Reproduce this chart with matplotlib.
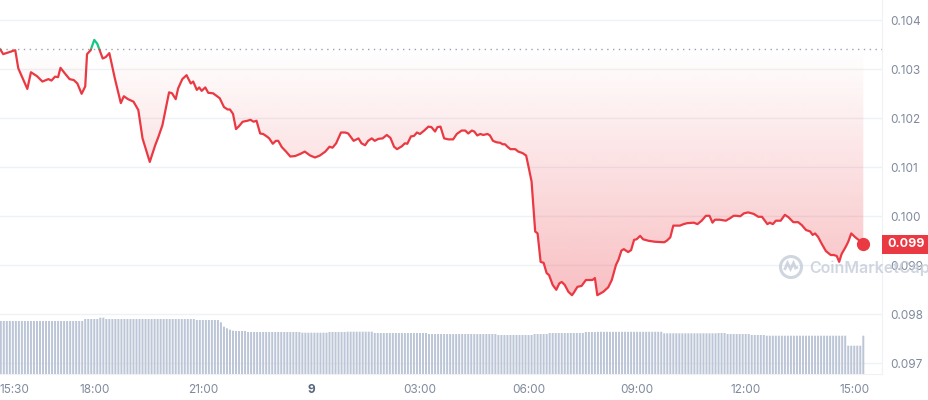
import numpy as np
import matplotlib
matplotlib.use("Agg")
import matplotlib.pyplot as plt
import matplotlib.transforms as mtransforms
from matplotlib.patches import Rectangle, Circle
from matplotlib.path import Path
from matplotlib.patches import PathPatch

plt.rcParams['font.family'] = ['Inter', 'DejaVu Sans']

# ---------------- data ----------------
# minutes after 15:30 (day 8)
minutes = [-6, -1, 19, 24, 39, 45, 55, 64, 74, 79, 85, 90, 94, 101, 109, 116, 122, 129, 135, 138,
           144, 150, 155, 164, 169, 175, 184, 194, 199, 206, 215, 223, 230, 242, 251, 256, 263, 274, 279, 285,
           289, 296, 303, 310, 314, 320, 324, 328, 334, 339, 347, 358, 365, 371, 375, 380, 385, 390, 396, 404,
           409, 414, 419, 425, 430, 436, 440, 446, 451, 455, 461, 468, 475, 483, 491, 499, 508, 516, 524, 533,
           540, 545, 551, 559, 566, 571, 580, 588, 593, 599, 604, 610, 615, 621, 628, 635, 641, 647, 652, 660,
           665, 669, 675, 680, 685, 690, 697, 704, 709, 715, 719, 724, 730, 737, 745, 751, 759, 765, 770, 776,
           780, 785, 790, 795, 802, 806, 811, 817, 823, 827, 831, 835, 840, 848, 853, 860, 866, 870, 875, 878,
           881, 885, 890, 895, 900, 904, 910, 916, 921, 925, 930, 936, 942, 945, 951, 958, 965, 972, 976, 980,
           984, 994, 1002, 1008, 1015, 1019, 1024, 1028, 1035, 1040, 1045, 1049, 1055, 1060, 1069, 1080, 1095, 1099, 1105, 1110,
           1121, 1127, 1133, 1144, 1150, 1157, 1164, 1170, 1175, 1179, 1187, 1197, 1204, 1210, 1215, 1221, 1227, 1234, 1243, 1251,
           1257, 1266, 1270, 1275, 1280, 1288, 1295, 1301, 1309, 1317, 1323, 1330, 1337, 1341, 1345, 1350, 1356, 1363, 1371, 1376,
           1381, 1385, 1389, 1396, 1400, 1405, 1411, 1417, 1425]

prices = [0.10341, 0.10331, 0.10339, 0.10302, 0.10260, 0.10294, 0.10286, 0.10275, 0.10280, 0.10277,
          0.10285, 0.10284, 0.10303, 0.10292, 0.10280, 0.10278, 0.10271, 0.10250, 0.10265, 0.10331,
          0.10339, 0.10360, 0.10352, 0.10322, 0.10325, 0.10333, 0.10282, 0.10231, 0.10245, 0.10239,
          0.10234, 0.10217, 0.10159, 0.10111, 0.10145, 0.10161, 0.10186, 0.10253, 0.10251, 0.10239,
          0.10261, 0.10280, 0.10288, 0.10271, 0.10275, 0.10258, 0.10263, 0.10256, 0.10263, 0.10252,
          0.10251, 0.10241, 0.10223, 0.10218, 0.10218, 0.10209, 0.10178, 0.10184, 0.10193, 0.10195,
          0.10197, 0.10193, 0.10195, 0.10169, 0.10168, 0.10163, 0.10159, 0.10148, 0.10154, 0.10154,
          0.10141, 0.10132, 0.10122, 0.10123, 0.10127, 0.10132, 0.10124, 0.10120, 0.10124, 0.10132,
          0.10142, 0.10140, 0.10149, 0.10171, 0.10171, 0.10169, 0.10154, 0.10159, 0.10149, 0.10145,
          0.10154, 0.10159, 0.10154, 0.10158, 0.10159, 0.10166, 0.10160, 0.10142, 0.10137, 0.10143,
          0.10149, 0.10148, 0.10163, 0.10164, 0.10171, 0.10168, 0.10175, 0.10183, 0.10182, 0.10173,
          0.10182, 0.10183, 0.10159, 0.10157, 0.10157, 0.10168, 0.10175, 0.10175, 0.10169, 0.10175,
          0.10173, 0.10165, 0.10168, 0.10166, 0.10168, 0.10165, 0.10154, 0.10151, 0.10150, 0.10147,
          0.10147, 0.10142, 0.10137, 0.10137, 0.10132, 0.10129, 0.10124, 0.10101, 0.10071, 0.10020,
          0.09969, 0.09965, 0.09907, 0.09905, 0.09884, 0.09880, 0.09860, 0.09850, 0.09863, 0.09866,
          0.09860, 0.09846, 0.09839, 0.09844, 0.09856, 0.09858, 0.09870, 0.09870, 0.09870, 0.09874,
          0.09839, 0.09846, 0.09855, 0.09870, 0.09901, 0.09911, 0.09930, 0.09933, 0.09927, 0.09931,
          0.09952, 0.09953, 0.09960, 0.09953, 0.09950, 0.09948, 0.09947, 0.09950, 0.09957, 0.09981,
          0.09981, 0.09984, 0.09986, 0.09987, 0.09984, 0.09991, 0.10001, 0.10001, 0.09987, 0.09993,
          0.09993, 0.09991, 0.09996, 0.10001, 0.10001, 0.10000, 0.10006, 0.10008, 0.10005, 0.09999,
          0.09999, 0.09984, 0.09987, 0.09984, 0.09991, 0.09991, 0.10003, 0.09998, 0.09988, 0.09988,
          0.09982, 0.09972, 0.09969, 0.09962, 0.09965, 0.09958, 0.09944, 0.09929, 0.09921, 0.09921,
          0.09919, 0.09907, 0.09923, 0.09938, 0.09948, 0.09965, 0.09958, 0.09952, 0.09943]

# volume bars, run-length: level (relative units) and number of 5-minute bars at that level
vol_levels = [5.30, 5.50, 5.63, 5.50, 5.40, 5.17, 4.73, 4.57, 4.43, 4.33, 4.30, 4.20, 4.13, 4.20, 4.23,
              4.10, 4.00, 3.90, 4.00, 4.10, 4.20, 4.22, 4.07, 4.10, 4.00, 3.90, 3.83, 2.83, 3.83]
vol_counts = [28, 5, 2, 30, 8, 1, 1, 1, 1, 1, 4, 18, 9, 6, 9,
              18, 23, 12, 5, 12, 4, 22, 18, 3, 8, 5, 27, 5, 1]
vol_first_minute = -5
vol_step_minutes = 5

ref_price = 0.10341          # opening reference (dotted line)
last_label = "0.099"

x_tick_minutes = [0, 150, 330, 510, 690, 870, 1050, 1230, 1410]
x_tick_labels = ["15:30", "18:00", "21:00", "9", "03:00", "06:00", "09:00", "12:00", "15:00"]
y_ticks = [0.097, 0.098, 0.099, 0.100, 0.101, 0.102, 0.103, 0.104]
y_tick_labels = ["0.097", "0.098", "0.099", "0.100", "0.101", "0.102", "0.103", "0.104"]

# ---------------- styling ----------------
RED = "#ea3943"
GREEN = "#16c784"
GRID = "#eff2f5"
LABEL = "#808a9d"
VOLC = "#bcc6d7"

W, H = 929, 400
fig = plt.figure(figsize=(W / 100, H / 100), dpi=100)
fig.patch.set_facecolor("white")

pos = [0, 26 / H, 882 / W, 374 / H]
ax = fig.add_axes(pos)
ax_vol = fig.add_axes(pos, sharex=ax)
ax_vol.set_facecolor("none")

xmin, xmax = -6.3, 1456
ymin, ymax = 0.0967816, 0.1044143

# volume
vols = np.repeat(vol_levels, vol_counts)
bar_minutes = vol_first_minute + vol_step_minutes * np.arange(len(vols))
bars = ax_vol.bar(bar_minutes, vols, width=3.3, color=VOLC, linewidth=0)
for b in bars:
    b.set_snap(False)
ax_vol.set_ylim(0, 37.4)
ax_vol.axis("off")

mins = np.array(minutes, dtype=float)
pr = np.array(prices)

# gradient fill between price and reference
poly = ax.fill_between(mins, pr, ref_price, where=pr <= ref_price, interpolate=True,
                       facecolor="none", edgecolor="none")
clip = Path.make_compound_path(*poly.get_paths())
n = 256
rgba = np.zeros((n, 1, 4))
rgba[..., 0] = 234 / 255
rgba[..., 1] = 57 / 255
rgba[..., 2] = 67 / 255
rgba[:, 0, 3] = np.linspace(0.33, 0.0, n)
im = ax.imshow(rgba, extent=[xmin, xmax, 0.0982, ref_price], origin="lower",
               aspect="auto", interpolation="bilinear", zorder=1)
im.set_clip_path(clip, ax.transData)

# reference dotted line
ax.axhline(ref_price, color="#9aa1b0", lw=1.0, ls=(0, (1, 3.2)), zorder=2)

# price line, red below reference, green above
below = Rectangle((xmin, ymin), xmax - xmin, ref_price - ymin, transform=ax.transData)
above = Rectangle((xmin, ref_price), xmax - xmin, ymax - ref_price, transform=ax.transData)
l1, = ax.plot(mins, pr, color=RED, lw=1.6, zorder=3, solid_joinstyle="round")
l1.set_clip_path(below)
l2, = ax.plot(mins, pr, color=GREEN, lw=1.6, zorder=3, solid_joinstyle="round")
l2.set_clip_path(above)
ax.plot(mins[-1], pr[-1], "o", ms=8.5, color=RED, mec=RED, zorder=4)

ax.set_xlim(xmin, xmax)
ax.set_ylim(ymin, ymax)

# axes styling
for s in ["top", "left"]:
    ax.spines[s].set_visible(False)
ax.spines["right"].set_color(GRID)
ax.spines["bottom"].set_color(GRID)
ax.set_yticks(y_ticks)
ax.set_yticklabels(y_tick_labels)
ax.yaxis.grid(True, color=GRID, lw=1)
ax.set_axisbelow(True)
ax.tick_params(axis="y", left=False, right=True, labelleft=False, labelright=True,
               length=0, pad=6, labelsize=8.5, labelcolor=LABEL)
ax.set_xticks(x_tick_minutes)
ax.set_xticklabels(x_tick_labels)
ax.tick_params(axis="x", length=0, pad=7, labelsize=8.5, labelcolor=LABEL)
xl = ax.get_xticklabels()
xl[0].set_ha("left")
xl[0].set_transform(xl[0].get_transform() + mtransforms.ScaledTranslation(-4 / 100, 0, fig.dpi_scale_trans))
xl[3].set_fontweight("bold")
xl[3].set_color("#58667e")

# last price tag
blend = mtransforms.blended_transform_factory(ax.transAxes, ax.transData)
half = 9.5 / 49000
tag = Rectangle((1.0, pr[-1] - half), 48 / 882, 2 * half, transform=blend,
                facecolor=RED, edgecolor="none", clip_on=False, zorder=6)
ax.add_patch(tag)
ax.text(1.0 + 24 / 882, pr[-1], last_label, transform=blend, ha="center", va="center",
        color="white", fontsize=9, fontweight="bold", zorder=7, clip_on=False)

# watermark
wm = "#c5ccd9"
fig.text(809 / W, 1 - 268 / H, "CoinMarketCap", fontsize=11.5, fontweight="semibold",
         color=wm, alpha=0.8, ha="left", va="center")
cx, cy = 7.91, (H - 267) / 100
circ = Circle((cx, cy), 0.105, transform=fig.dpi_scale_trans, fill=False,
              edgecolor=wm, lw=2.2, alpha=0.8)
fig.patches.append(circ)
wave = Path([(cx - 0.065, cy - 0.03), (cx - 0.035, cy + 0.04), (cx - 0.005, cy - 0.02),
             (cx + 0.025, cy + 0.04), (cx + 0.045, cy - 0.01), (cx + 0.07, cy + 0.0)])
fig.patches.append(PathPatch(wave, transform=fig.dpi_scale_trans, fill=False,
                             edgecolor=wm, lw=2.0, alpha=0.8))

fig.savefig("out.png", dpi=100)
